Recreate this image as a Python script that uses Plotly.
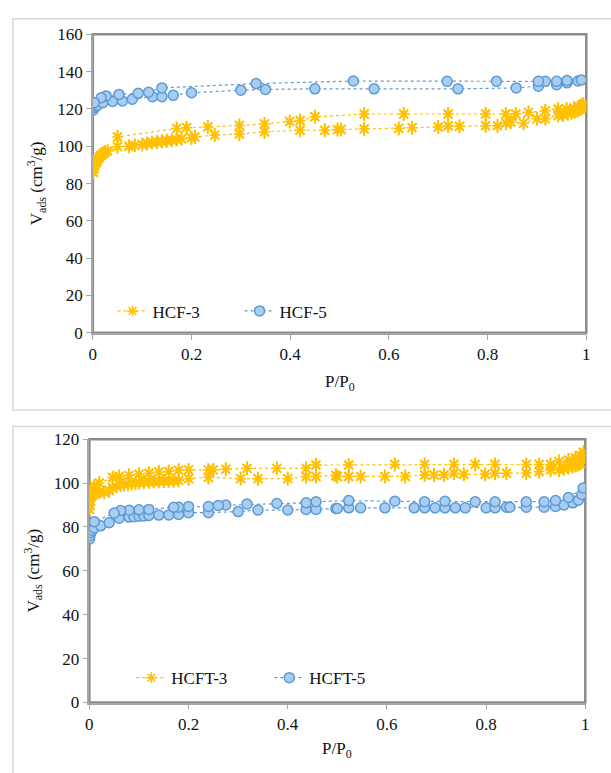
import plotly.graph_objects as go

# ---------------- data ----------------
# Top panel: HCF-3 (adsorption then desorption)
hcf3_x = [0.001, 0.002, 0.004, 0.006, 0.008, 0.010, 0.013, 0.016, 0.020, 0.025, 0.030, 0.050,
          0.073, 0.085, 0.100, 0.110, 0.120, 0.130, 0.140, 0.150, 0.160, 0.170, 0.180, 0.200,
          0.207, 0.247, 0.297, 0.348, 0.420, 0.470, 0.496, 0.503, 0.550, 0.620, 0.647, 0.700,
          0.720, 0.743, 0.796, 0.820, 0.837, 0.847, 0.873, 0.900, 0.917, 0.943, 0.953, 0.963,
          0.970, 0.976, 0.982, 0.987, 0.991, 0.994,
          0.994, 0.990, 0.985, 0.975, 0.960, 0.943, 0.917, 0.883, 0.857, 0.837, 0.796, 0.720,
          0.630, 0.550, 0.450, 0.420, 0.399, 0.348, 0.297, 0.233, 0.190, 0.170, 0.050]
hcf3_y = [86, 88, 89.5, 91, 92, 93, 94, 95, 96, 97, 97.5, 99.8,
          100, 100.5, 101, 101.5, 102, 102.3, 102.7, 103, 103.3, 103.6, 104, 104.5,
          105, 106, 106.6, 107.8, 108.6, 108.6, 109, 109, 109.3, 109.6, 110, 110.3,
          111, 110.7, 111, 111, 112.4, 113, 112.4, 114.7, 114.7, 116.5, 116.8, 117.5,
          118, 118.5, 119.2, 120, 120.7, 121.5,
          122.5, 122, 121, 120.5, 120, 120, 119, 118.2, 117.3, 117.3, 117.3, 117.3,
          117.3, 117.3, 115.8, 113.8, 113.3, 112, 111.2, 110.3, 110, 109.6, 105]

# Top panel: HCF-5
hcf5_x = [0.001, 0.003, 0.006, 0.010, 0.020, 0.040, 0.060, 0.080, 0.121, 0.140, 0.163, 0.200,
          0.300, 0.350, 0.450, 0.570, 0.740, 0.858, 0.903, 0.940, 0.961, 0.983,
          0.990, 0.961, 0.940, 0.917, 0.903, 0.818, 0.718, 0.528, 0.331, 0.140, 0.113, 0.092,
          0.053, 0.027, 0.017, 0.003]
hcf5_y = [119.5, 120.8, 121.5, 122, 123.4, 124, 124.3, 125.2, 126.6, 126.6, 127.3, 128.7,
          130.1, 130.5, 130.8, 130.8, 130.8, 131.3, 132.2, 133, 134, 135,
          135.6, 135.3, 134.8, 134.8, 134.8, 134.8, 134.8, 135, 133.6, 131.3, 129, 128.4,
          127.8, 127, 126, 123.4]

# Bottom panel: HCFT-3
hcft3_x = [0.0005, 0.001, 0.002, 0.003, 0.005, 0.007, 0.010, 0.015, 0.020, 0.030, 0.040, 0.047,
           0.055, 0.063, 0.070, 0.078, 0.085, 0.093, 0.100, 0.110, 0.120, 0.130, 0.140, 0.150,
           0.160, 0.170, 0.180, 0.200, 0.240, 0.305, 0.340, 0.400, 0.437, 0.457, 0.497, 0.500,
           0.523, 0.547, 0.596, 0.637, 0.676, 0.695, 0.715, 0.735, 0.755, 0.798, 0.818, 0.841,
           0.881, 0.907, 0.930, 0.947, 0.957, 0.966, 0.974, 0.980, 0.986, 0.990, 0.994,
           0.996, 0.990, 0.980, 0.966, 0.947, 0.930, 0.907, 0.881, 0.818, 0.778, 0.735, 0.676,
           0.616, 0.523, 0.457, 0.437, 0.378, 0.318, 0.275, 0.250, 0.240, 0.200, 0.180, 0.160,
           0.140, 0.120, 0.100, 0.080, 0.060, 0.047, 0.020, 0.010, 0.004]
hcft3_y = [88, 90, 92, 93.5, 94.5, 95.5, 96, 95.5, 96, 95.8, 96.5, 98,
           98.5, 99, 99.3, 99.5, 99.8, 100, 100.2, 100.5, 100.6, 100.7, 100.8, 100.9,
           101, 101.1, 101.2, 102, 102.6, 102, 102, 102, 103, 103, 103.5, 103,
           103, 103, 103, 103, 103.7, 103.7, 103.7, 104.5, 104, 104, 104.5, 104.5,
           104.5, 105.3, 106, 106, 106.5, 107, 107.5, 108, 108.5, 109, 110.5,
           114, 112.5, 111.5, 110.5, 109.8, 108.5, 108.5, 108.5, 108.5, 108.5, 108.5, 108.5,
           108.5, 108.2, 108.2, 106.7, 106.7, 106.7, 106.3, 106, 106, 106, 105.8, 105.3,
           105, 104.5, 104, 103.5, 103, 102.5, 100, 98.7, 97.5]

# Bottom panel: HCFT-5
hcft5_x = [0.0005, 0.001, 0.003, 0.006, 0.010, 0.023, 0.040, 0.060, 0.080, 0.090, 0.100, 0.110,
           0.120, 0.140, 0.160, 0.180, 0.200, 0.240, 0.300, 0.340, 0.400, 0.437, 0.457, 0.497,
           0.500, 0.523, 0.547, 0.596, 0.655, 0.676, 0.697, 0.717, 0.738, 0.758, 0.800, 0.818,
           0.841, 0.848, 0.881, 0.917, 0.940, 0.957, 0.975, 0.986, 0.993, 0.996,
           0.966, 0.940, 0.917, 0.881, 0.818, 0.778, 0.717, 0.676, 0.616, 0.523, 0.457, 0.437,
           0.378, 0.318, 0.275, 0.260, 0.240, 0.200, 0.180, 0.170, 0.120, 0.100, 0.080, 0.063,
           0.050, 0.010]
hcft5_y = [74.5, 76, 77.5, 78.5, 79.5, 80.5, 81.9, 84, 84.5, 84.7, 84.9, 85,
           85.2, 85.4, 85.5, 85.7, 86.5, 86.5, 87, 87.7, 87.7, 88, 88, 88.4,
           88.4, 88.7, 88.7, 88.7, 88.7, 88.7, 88.7, 88.7, 88.7, 88.7, 88.7, 88.7,
           89, 89, 89, 89, 89.3, 90, 91, 92.2, 94.8, 97.8,
           93.4, 92, 91.5, 91.5, 91.5, 91.5, 91.7, 91.5, 91.7, 92, 91.5, 91,
           90.7, 90.4, 90, 89.8, 89.3, 89.3, 89, 89, 88, 87.8, 87.6, 87.5,
           86.3, 82.4]

x_ticks = [0, 0.2, 0.4, 0.6, 0.8, 1]
x_ticktext = ["0", "0.2", "0.4", "0.6", "0.8", "1"]
top_yticks = [0, 20, 40, 60, 80, 100, 120, 140, 160]
bot_yticks = [0, 20, 40, 60, 80, 100, 120]

# ---------------- styling ----------------
W, H = 611, 773
ORANGE = "#FFC000"
BLUE_LINE = "#5B9BD5"
BLUE_FILL = "#A9CDF0"
FONT = "Times New Roman, Liberation Serif, serif"
FS = 17
TXT = "#111111"


def px_x(p):
    return p / W


def px_y(p):
    return 1 - p / H


fig = go.Figure()


def add_star(x, y, name, xa, ya, legend):
    fig.add_trace(go.Scatter(
        x=x, y=y, name=name, mode="lines+markers", xaxis=xa, yaxis=ya, legend=legend,
        line=dict(color=ORANGE, width=1.2, dash="dot"),
        marker=dict(symbol="asterisk-open", size=9, color=ORANGE,
                    line=dict(color=ORANGE, width=1.5))))
    fig.add_trace(go.Scatter(
        x=x, y=y, name=name, mode="markers", xaxis=xa, yaxis=ya, showlegend=False,
        hoverinfo="skip",
        marker=dict(symbol="x-thin-open", size=9, color=ORANGE,
                    line=dict(color=ORANGE, width=2))))
    fig.add_trace(go.Scatter(
        x=x, y=y, name=name, mode="markers", xaxis=xa, yaxis=ya, showlegend=False,
        hoverinfo="skip",
        marker=dict(symbol="line-ns-open", size=10, color=ORANGE,
                    line=dict(color=ORANGE, width=2))))


def add_circle(x, y, name, xa, ya, legend):
    fig.add_trace(go.Scatter(
        x=x, y=y, name=name, mode="lines+markers", xaxis=xa, yaxis=ya, legend=legend,
        line=dict(color=BLUE_LINE, width=1.2, dash="dot"),
        marker=dict(symbol="circle", size=10, color=BLUE_FILL,
                    line=dict(color=BLUE_LINE, width=1.5))))


add_star(hcf3_x, hcf3_y, "HCF-3", "x", "y", "legend")
add_circle(hcf5_x, hcf5_y, "HCF-5", "x", "y", "legend")
add_star(hcft3_x, hcft3_y, "HCFT-3", "x2", "y2", "legend2")
add_circle(hcft5_x, hcft5_y, "HCFT-5", "x2", "y2", "legend2")

axis_common = dict(showgrid=False, zeroline=False, showline=True, linecolor="#A6A6A6",
                   linewidth=1.5, ticks="outside", ticklen=5, tickcolor="#A6A6A6",
                   tickfont=dict(family=FONT, size=FS, color=TXT))

top_dom_x = [px_x(90), px_x(590)]
top_dom_y = [px_y(332), px_y(26)]
bot_dom_x = [px_x(86.5), px_x(589)]
bot_dom_y = [px_y(711), px_y(441)]

fig.update_layout(
    width=W, height=H, margin=dict(l=0, r=0, t=0, b=0),
    paper_bgcolor="white", plot_bgcolor="white",
    showlegend=True,
    font=dict(family=FONT, size=FS, color=TXT),
    xaxis=dict(domain=top_dom_x, anchor="y", range=[0, 1], tickvals=x_ticks,
               ticktext=x_ticktext, **axis_common),
    yaxis=dict(domain=top_dom_y, anchor="x", range=[0, 160], tickvals=top_yticks,
               **axis_common),
    xaxis2=dict(domain=bot_dom_x, anchor="y2", range=[0, 1], tickvals=x_ticks,
                ticktext=x_ticktext, **axis_common),
    yaxis2=dict(domain=bot_dom_y, anchor="x2", range=[0, 120], tickvals=bot_yticks,
                **axis_common),
    legend=dict(orientation="h", x=px_x(110), y=px_y(310), xanchor="left", yanchor="middle",
                bgcolor="rgba(0,0,0,0)", font=dict(family=FONT, size=FS, color=TXT),
                entrywidth=82, entrywidthmode="pixels", itemclick=False),
    legend2=dict(orientation="h", x=px_x(129), y=px_y(686), xanchor="left", yanchor="middle",
                 bgcolor="rgba(0,0,0,0)", font=dict(family=FONT, size=FS, color=TXT),
                 entrywidth=93, entrywidthmode="pixels", itemclick=False),
)

# axis titles as annotations
ann = [
    dict(text="P/P<sub>0</sub>", x=(px_x(90) + px_x(590)) / 2, y=px_y(383)),
    dict(text="P/P<sub>0</sub>", x=(px_x(86.5) + px_x(589)) / 2, y=px_y(760)),
    dict(text="V<sub>ads</sub> (cm<sup>3</sup>/g)", x=px_x(33), y=px_y(179), textangle=-90),
    dict(text="V<sub>ads</sub> (cm<sup>3</sup>/g)", x=px_x(30), y=px_y(576), textangle=-90),
]
for a in ann:
    fig.add_annotation(xref="paper", yref="paper", showarrow=False,
                       font=dict(family=FONT, size=FS, color=TXT),
                       xanchor="center", yanchor="middle", **a)

# chart area frames and plot area borders
fig.add_shape(type="rect", xref="paper", yref="paper", x0=px_x(9), x1=1.02,
              y0=px_y(411), y1=px_y(10), line=dict(color="#D9D9D9", width=1.5), layer="below")
fig.add_shape(type="rect", xref="paper", yref="paper", x0=px_x(9), x1=1.02,
              y0=-0.05, y1=px_y(428), line=dict(color="#D9D9D9", width=1.5), layer="below")
for xr, yr in (("x domain", "y domain"), ("x2 domain", "y2 domain")):
    fig.add_shape(type="rect", xref=xr, yref=yr, x0=0, x1=1, y0=0, y1=1,
                  line=dict(color="#8C8C8C", width=2.5), layer="below")

fig.write_html("out.html")
